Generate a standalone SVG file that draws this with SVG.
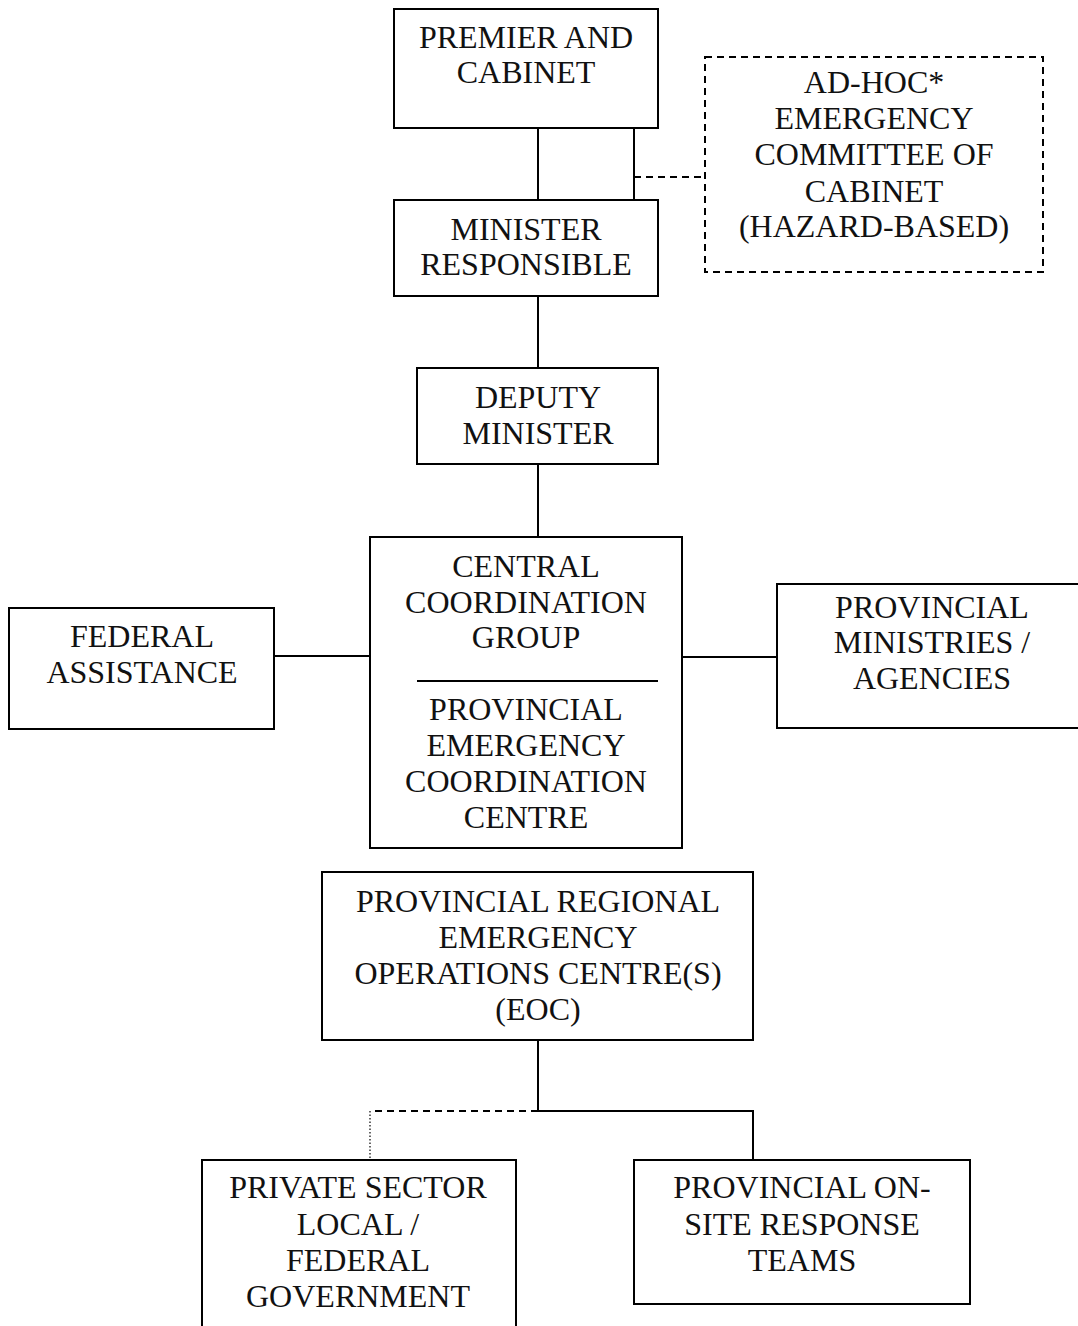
<svg xmlns="http://www.w3.org/2000/svg" width="1078" height="1326" viewBox="0 0 1078 1326">
  <style>
    .box { fill: #ffffff; stroke: #000000; stroke-width: 2; }
    .dash { fill: #ffffff; stroke: #000000; stroke-width: 2; stroke-dasharray: 7 5; }
    .ln { fill: none; stroke: #000000; stroke-width: 2; }
    .dl { fill: none; stroke: #000000; stroke-width: 2; stroke-dasharray: 7 5; }
    .dt { fill: none; stroke: #000000; stroke-width: 1.2; stroke-dasharray: 1.5 2; }
    text { font-family: "Liberation Serif", "DejaVu Serif", serif; font-size: 32px; fill: #111111; text-anchor: middle; }
  </style>
  <rect width="1078" height="1326" fill="#ffffff"/>

  <g id="connectors">
    <line class="ln" x1="538" y1="128" x2="538" y2="200"/>
    <line class="ln" x1="634" y1="128" x2="634" y2="200"/>
    <line class="dl" x1="634" y1="177" x2="705" y2="177"/>
    <line class="ln" x1="538" y1="296" x2="538" y2="368"/>
    <line class="ln" x1="538" y1="464" x2="538" y2="537"/>
    <line class="ln" x1="274" y1="656" x2="370" y2="656"/>
    <line class="ln" x1="682" y1="657" x2="777" y2="657"/>
    <line class="ln" x1="538" y1="1040" x2="538" y2="1111"/>
    <polyline class="ln" points="538,1111 753,1111 753,1160"/>
    <line class="dl" x1="538" y1="1111" x2="370" y2="1111"/>
    <line class="dt" x1="370" y1="1111" x2="370" y2="1160"/>
  </g>

  <g id="premier">
    <rect class="box" x="394" y="9" width="264" height="119"/>
    <text x="526" y="48">PREMIER AND</text>
    <text x="526" y="83">CABINET</text>
  </g>

  <g id="adhoc">
    <rect class="dash" x="705" y="57" width="338" height="215"/>
    <text x="874" y="93">AD-HOC*</text>
    <text x="874" y="129">EMERGENCY</text>
    <text x="874" y="165">COMMITTEE OF</text>
    <text x="874" y="202">CABINET</text>
    <text x="874" y="237">(HAZARD-BASED)</text>
  </g>

  <g id="minister">
    <rect class="box" x="394" y="200" width="264" height="96"/>
    <text x="526" y="240">MINISTER</text>
    <text x="526" y="275">RESPONSIBLE</text>
  </g>

  <g id="deputy">
    <rect class="box" x="417" y="368" width="241" height="96"/>
    <text x="538" y="408">DEPUTY</text>
    <text x="538" y="444">MINISTER</text>
  </g>

  <g id="central">
    <rect class="box" x="370" y="537" width="312" height="311"/>
    <text x="526" y="577">CENTRAL</text>
    <text x="526" y="613">COORDINATION</text>
    <text x="526" y="648">GROUP</text>
    <line class="ln" x1="417" y1="681" x2="658" y2="681"/>
    <text x="526" y="720">PROVINCIAL</text>
    <text x="526" y="756">EMERGENCY</text>
    <text x="526" y="792">COORDINATION</text>
    <text x="526" y="828">CENTRE</text>
  </g>

  <g id="federal">
    <rect class="box" x="9" y="608" width="265" height="121"/>
    <text x="142" y="647">FEDERAL</text>
    <text x="142" y="683">ASSISTANCE</text>
  </g>

  <g id="ministries">
    <rect class="box" x="777" y="584" width="310" height="144"/>
    <text x="932" y="618">PROVINCIAL</text>
    <text x="932" y="653">MINISTRIES /</text>
    <text x="932" y="689">AGENCIES</text>
  </g>

  <g id="regional-eoc">
    <rect class="box" x="322" y="872" width="431" height="168"/>
    <text x="538" y="912">PROVINCIAL REGIONAL</text>
    <text x="538" y="948">EMERGENCY</text>
    <text x="538" y="984">OPERATIONS CENTRE(S)</text>
    <text x="538" y="1020">(EOC)</text>
  </g>

  <g id="private-sector">
    <rect class="box" x="202" y="1160" width="314" height="180"/>
    <text x="358" y="1198">PRIVATE SECTOR</text>
    <text x="358" y="1235">LOCAL /</text>
    <text x="358" y="1271">FEDERAL</text>
    <text x="358" y="1307">GOVERNMENT</text>
  </g>

  <g id="onsite-teams">
    <rect class="box" x="634" y="1160" width="336" height="144"/>
    <text x="802" y="1198">PROVINCIAL ON-</text>
    <text x="802" y="1235">SITE RESPONSE</text>
    <text x="802" y="1271">TEAMS</text>
  </g>
</svg>
